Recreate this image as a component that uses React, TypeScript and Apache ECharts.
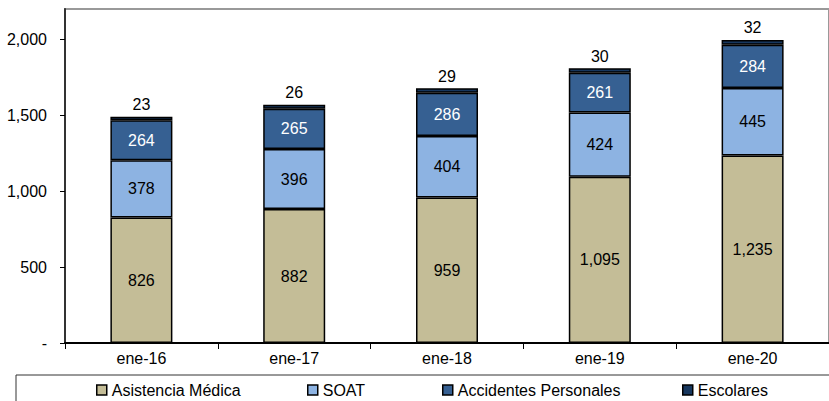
import React, { useEffect, useRef } from "react";
import * as echarts from "echarts";

const categories = ["ene-16", "ene-17", "ene-18", "ene-19", "ene-20"];
const asistenciaMedica = [826, 882, 959, 1095, 1235];
const soat = [378, 396, 404, 424, 445];
const accidentesPersonales = [264, 265, 286, 261, 284];
const escolares = [23, 26, 29, 30, 32];
const yTicks = [0, 500, 1000, 1500, 2000];
const seriesNames = ["Asistencia Médica", "SOAT", "Accidentes Personales", "Escolares"];
const legendLefts = [91, 302, 437, 677];

const FONT = "'Liberation Sans', Arial, sans-serif";
const FS = 16;

export default function App() {
  const ref = useRef<HTMLDivElement>(null);
  useEffect(() => {
    const chart = echarts.init(ref.current!, null, { renderer: "svg" });
    const fmt = (v: number) => (v === 0 ? "-" : v.toLocaleString("en-US"));
    const common = {
      type: "bar",
      stack: "total",
      barWidth: 62,
      itemStyle: { borderColor: "#000", borderWidth: 1.5 },
    };
    chart.setOption({
      animation: false,
      textStyle: { fontFamily: FONT },
      grid: {
        left: 65, right: 0, top: 9, bottom: 58,
        show: true, borderColor: "#999", borderWidth: 2, backgroundColor: "transparent",
      },
      legend: seriesNames.map((n, i) => ({
        top: 377,
        left: legendLefts[i],
        itemWidth: 10,
        itemHeight: 10,
        itemGap: 0,
        icon: "rect",
        textStyle: { fontFamily: FONT, fontSize: FS, color: "#000" },
        data: [{ name: n, itemStyle: { borderColor: "#000", borderWidth: 1.5 } }],
      })),
      graphic: [
        {
          type: "rect",
          shape: { x: 16, y: 375, width: 820, height: 40 },
          style: { fill: "none", stroke: "#333", lineWidth: 1 },
          z: -1,
        },
      ],
      xAxis: {
        type: "category",
        data: categories,
        axisLine: { show: true, lineStyle: { color: "#000", width: 2 } },
        axisTick: { show: true, inside: false, length: 6, lineStyle: { color: "#000", width: 1 } },
        axisLabel: { fontFamily: FONT, fontSize: FS, color: "#000", margin: 7 },
      },
      yAxis: {
        type: "value",
        min: 0,
        max: 2200,
        interval: 500,
        splitLine: { show: false },
        axisLine: { show: true, lineStyle: { color: "#333", width: 2 } },
        axisTick: { show: true, length: 5, lineStyle: { color: "#000" } },
        axisLabel: {
          fontFamily: FONT, fontSize: FS, color: "#000", margin: 18,
          formatter: (v: number) => (yTicks.includes(v) ? fmt(v) : ""),
          showMaxLabel: false,
        },
      },
      series: [
        {
          ...common, name: seriesNames[0], data: asistenciaMedica,
          itemStyle: { ...common.itemStyle, color: "#C4BD97" },
          label: { show: true, position: "inside", fontFamily: FONT, fontSize: FS, color: "#000",
            formatter: (p: any) => fmt(p.value) },
        },
        {
          ...common, name: seriesNames[1], data: soat,
          itemStyle: { ...common.itemStyle, color: "#8DB3E2" },
          label: { show: true, position: "inside", fontFamily: FONT, fontSize: FS, color: "#000" },
        },
        {
          ...common, name: seriesNames[2], data: accidentesPersonales,
          itemStyle: { ...common.itemStyle, color: "#366092" },
          label: { show: true, position: "inside", fontFamily: FONT, fontSize: FS, color: "#fff" },
        },
        {
          ...common, name: seriesNames[3], data: escolares,
          itemStyle: { ...common.itemStyle, color: "#17375E" },
          label: { show: true, position: "top", distance: 4, fontFamily: FONT, fontSize: FS, color: "#000" },
        },
      ],
    });
    return () => chart.dispose();
  }, []);
  return <div ref={ref} style={{ width: 829, height: 401, position: "absolute", left: 0, top: 0 }} />;
}
